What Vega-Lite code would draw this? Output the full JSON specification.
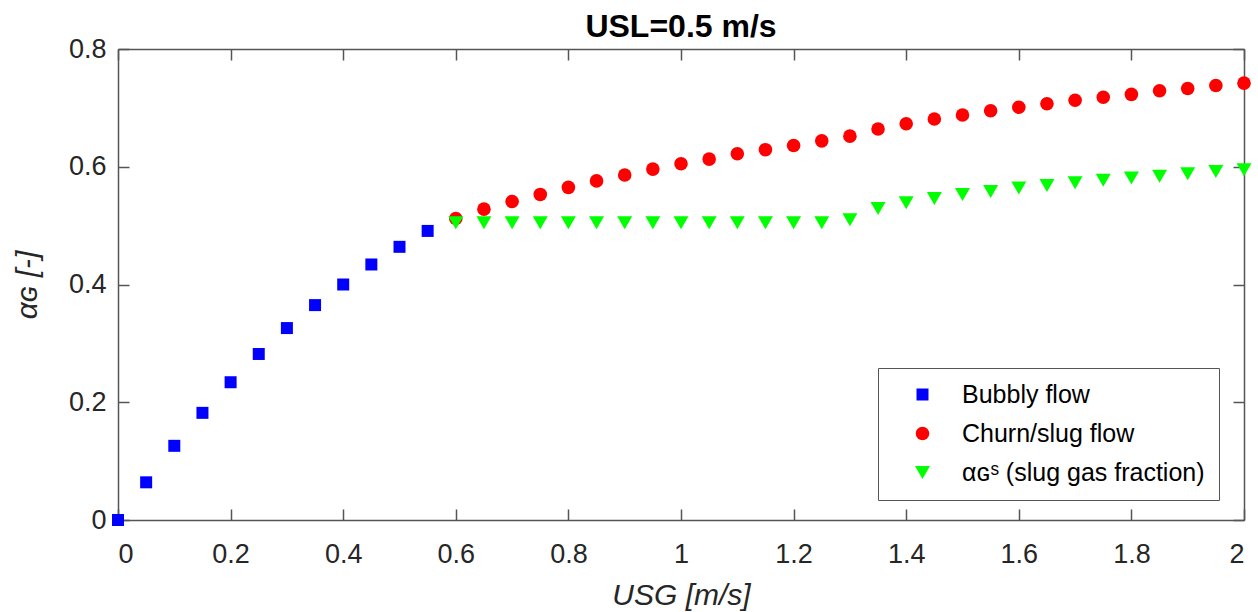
{
  "$schema": "https://vega.github.io/schema/vega-lite/v6.json",
  "autosize": {"type": "none"},
  "padding": {"left": 118, "top": 49, "right": 14, "bottom": 92},
  "width": 1126,
  "height": 471,
  "background": "white",
  "title": {
    "text": "USL=0.5 m/s",
    "font": "Liberation Sans",
    "fontSize": 32,
    "fontWeight": "bold",
    "color": "#000000",
    "anchor": "middle",
    "frame": "group",
    "offset": -9
  },
  "data": {
    "values": [
      {"usg": 0.0, "alpha": 0.0, "series": "Bubbly flow"},
      {"usg": 0.05, "alpha": 0.064, "series": "Bubbly flow"},
      {"usg": 0.1, "alpha": 0.126, "series": "Bubbly flow"},
      {"usg": 0.15, "alpha": 0.182, "series": "Bubbly flow"},
      {"usg": 0.2, "alpha": 0.234, "series": "Bubbly flow"},
      {"usg": 0.25, "alpha": 0.282, "series": "Bubbly flow"},
      {"usg": 0.3, "alpha": 0.326, "series": "Bubbly flow"},
      {"usg": 0.35, "alpha": 0.365, "series": "Bubbly flow"},
      {"usg": 0.4, "alpha": 0.400, "series": "Bubbly flow"},
      {"usg": 0.45, "alpha": 0.434, "series": "Bubbly flow"},
      {"usg": 0.5, "alpha": 0.464, "series": "Bubbly flow"},
      {"usg": 0.55, "alpha": 0.491, "series": "Bubbly flow"},
      {"usg": 0.6, "alpha": 0.512, "series": "Churn/slug flow"},
      {"usg": 0.65, "alpha": 0.528, "series": "Churn/slug flow"},
      {"usg": 0.7, "alpha": 0.541, "series": "Churn/slug flow"},
      {"usg": 0.75, "alpha": 0.553, "series": "Churn/slug flow"},
      {"usg": 0.8, "alpha": 0.565, "series": "Churn/slug flow"},
      {"usg": 0.85, "alpha": 0.576, "series": "Churn/slug flow"},
      {"usg": 0.9, "alpha": 0.586, "series": "Churn/slug flow"},
      {"usg": 0.95, "alpha": 0.596, "series": "Churn/slug flow"},
      {"usg": 1.0, "alpha": 0.605, "series": "Churn/slug flow"},
      {"usg": 1.05, "alpha": 0.613, "series": "Churn/slug flow"},
      {"usg": 1.1, "alpha": 0.622, "series": "Churn/slug flow"},
      {"usg": 1.15, "alpha": 0.629, "series": "Churn/slug flow"},
      {"usg": 1.2, "alpha": 0.636, "series": "Churn/slug flow"},
      {"usg": 1.25, "alpha": 0.644, "series": "Churn/slug flow"},
      {"usg": 1.3, "alpha": 0.652, "series": "Churn/slug flow"},
      {"usg": 1.35, "alpha": 0.664, "series": "Churn/slug flow"},
      {"usg": 1.4, "alpha": 0.673, "series": "Churn/slug flow"},
      {"usg": 1.45, "alpha": 0.681, "series": "Churn/slug flow"},
      {"usg": 1.5, "alpha": 0.688, "series": "Churn/slug flow"},
      {"usg": 1.55, "alpha": 0.695, "series": "Churn/slug flow"},
      {"usg": 1.6, "alpha": 0.701, "series": "Churn/slug flow"},
      {"usg": 1.65, "alpha": 0.707, "series": "Churn/slug flow"},
      {"usg": 1.7, "alpha": 0.713, "series": "Churn/slug flow"},
      {"usg": 1.75, "alpha": 0.718, "series": "Churn/slug flow"},
      {"usg": 1.8, "alpha": 0.723, "series": "Churn/slug flow"},
      {"usg": 1.85, "alpha": 0.729, "series": "Churn/slug flow"},
      {"usg": 1.9, "alpha": 0.733, "series": "Churn/slug flow"},
      {"usg": 1.95, "alpha": 0.738, "series": "Churn/slug flow"},
      {"usg": 2.0, "alpha": 0.742, "series": "Churn/slug flow"},
      {"usg": 0.6, "alpha": 0.505, "series": "αɢˢ (slug gas fraction)"},
      {"usg": 0.65, "alpha": 0.505, "series": "αɢˢ (slug gas fraction)"},
      {"usg": 0.7, "alpha": 0.505, "series": "αɢˢ (slug gas fraction)"},
      {"usg": 0.75, "alpha": 0.505, "series": "αɢˢ (slug gas fraction)"},
      {"usg": 0.8, "alpha": 0.505, "series": "αɢˢ (slug gas fraction)"},
      {"usg": 0.85, "alpha": 0.505, "series": "αɢˢ (slug gas fraction)"},
      {"usg": 0.9, "alpha": 0.505, "series": "αɢˢ (slug gas fraction)"},
      {"usg": 0.95, "alpha": 0.505, "series": "αɢˢ (slug gas fraction)"},
      {"usg": 1.0, "alpha": 0.505, "series": "αɢˢ (slug gas fraction)"},
      {"usg": 1.05, "alpha": 0.505, "series": "αɢˢ (slug gas fraction)"},
      {"usg": 1.1, "alpha": 0.505, "series": "αɢˢ (slug gas fraction)"},
      {"usg": 1.15, "alpha": 0.505, "series": "αɢˢ (slug gas fraction)"},
      {"usg": 1.2, "alpha": 0.505, "series": "αɢˢ (slug gas fraction)"},
      {"usg": 1.25, "alpha": 0.505, "series": "αɢˢ (slug gas fraction)"},
      {"usg": 1.3, "alpha": 0.510, "series": "αɢˢ (slug gas fraction)"},
      {"usg": 1.35, "alpha": 0.529, "series": "αɢˢ (slug gas fraction)"},
      {"usg": 1.4, "alpha": 0.539, "series": "αɢˢ (slug gas fraction)"},
      {"usg": 1.45, "alpha": 0.546, "series": "αɢˢ (slug gas fraction)"},
      {"usg": 1.5, "alpha": 0.553, "series": "αɢˢ (slug gas fraction)"},
      {"usg": 1.55, "alpha": 0.558, "series": "αɢˢ (slug gas fraction)"},
      {"usg": 1.6, "alpha": 0.564, "series": "αɢˢ (slug gas fraction)"},
      {"usg": 1.65, "alpha": 0.568, "series": "αɢˢ (slug gas fraction)"},
      {"usg": 1.7, "alpha": 0.573, "series": "αɢˢ (slug gas fraction)"},
      {"usg": 1.75, "alpha": 0.577, "series": "αɢˢ (slug gas fraction)"},
      {"usg": 1.8, "alpha": 0.581, "series": "αɢˢ (slug gas fraction)"},
      {"usg": 1.85, "alpha": 0.584, "series": "αɢˢ (slug gas fraction)"},
      {"usg": 1.9, "alpha": 0.588, "series": "αɢˢ (slug gas fraction)"},
      {"usg": 1.95, "alpha": 0.592, "series": "αɢˢ (slug gas fraction)"},
      {"usg": 2.0, "alpha": 0.595, "series": "αɢˢ (slug gas fraction)"}
    ]
  },
  "layer": [
    {
      "mark": {"type": "point", "filled": true, "opacity": 1, "strokeWidth": 0},
      "encoding": {
        "x": {
          "field": "usg", "type": "quantitative",
          "scale": {"domain": [0, 2], "nice": false, "zero": false},
          "axis": {
            "orient": "bottom",
            "title": "USG [m/s]",
            "values": [0, 0.2, 0.4, 0.6, 0.8, 1, 1.2, 1.4, 1.6, 1.8, 2],
            "format": "~g",
            "labelPadding": 32,
            "titleFontStyle": "italic",
            "titlePadding": 13
          }
        },
        "y": {
          "field": "alpha", "type": "quantitative",
          "scale": {"domain": [0, 0.8], "nice": false, "zero": false},
          "axis": {
            "orient": "left",
            "title": "αɢ [-]",
            "values": [0, 0.2, 0.4, 0.6, 0.8],
            "format": "~g",
            "labelPadding": 23,
            "titleFontStyle": "italic",
            "titlePadding": 26
          }
        },
        "color": {
          "field": "series", "type": "nominal",
          "scale": {"domain": ["Bubbly flow", "Churn/slug flow", "αɢˢ (slug gas fraction)"], "range": ["#0000FF", "#FF0000", "#00FF00"]},
          "legend": {"title": null}
        },
        "shape": {
          "field": "series", "type": "nominal",
          "scale": {"domain": ["Bubbly flow", "Churn/slug flow", "αɢˢ (slug gas fraction)"], "range": ["square", "circle", "triangle-down"]},
          "legend": {"title": null}
        },
        "size": {
          "field": "series", "type": "nominal",
          "scale": {"domain": ["Bubbly flow", "Churn/slug flow", "αɢˢ (slug gas fraction)"], "range": [144, 225, 324]},
          "legend": {"title": null}
        }
      }
    },
    {
      "mark": {"type": "point", "opacity": 0},
      "encoding": {
        "x": {
          "field": "usg", "type": "quantitative",
          "scale": {"domain": [0, 2], "nice": false, "zero": false},
          "axis": {"orient": "top", "title": null, "labels": false, "values": [0, 0.2, 0.4, 0.6, 0.8, 1, 1.2, 1.4, 1.6, 1.8, 2]}
        },
        "y": {
          "field": "alpha", "type": "quantitative",
          "scale": {"domain": [0, 0.8], "nice": false, "zero": false},
          "axis": {"orient": "right", "title": null, "labels": false, "values": [0, 0.2, 0.4, 0.6, 0.8]}
        }
      }
    }
  ],
  "resolve": {"axis": {"x": "independent", "y": "independent"}},
  "config": {
    "view": {"stroke": null},
    "axis": {
      "grid": false,
      "domainColor": "#555555",
      "domainWidth": 1.5,
      "tickColor": "#555555",
      "tickWidth": 1.5,
      "tickSize": -11,
      "labelFont": "Liberation Sans",
      "labelFontSize": 27,
      "labelColor": "#262626",
      "titleFont": "Liberation Sans",
      "titleFontSize": 30,
      "titleFontWeight": "normal",
      "titleColor": "#262626"
    },
    "legend": {
      "orient": "none",
      "legendX": 760,
      "legendY": 319,
      "padding": 14,
      "strokeColor": "#555555",
      "fillColor": "white",
      "labelFont": "Liberation Sans",
      "labelFontSize": 25,
      "labelColor": "#000000",
      "labelLimit": 400,
      "symbolOffset": 18,
      "labelOffset": 27,
      "rowPadding": 13,
      "symbolStrokeWidth": 0,
      "symbolOpacity": 1
    }
  }
}
